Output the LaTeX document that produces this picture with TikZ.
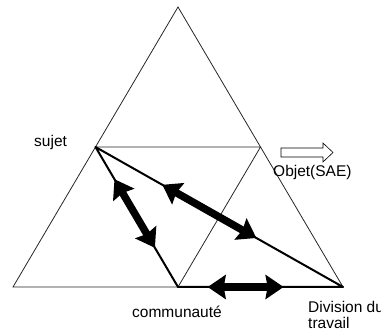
\documentclass[tikz,border=0pt]{standalone}
\usepackage{fontspec}
\setmainfont{Liberation Sans}
\usetikzlibrary{calc,arrows.meta}
\tikzset{
  thinline/.style={draw=black!85, line width=0.8pt},
  thickline/.style={draw=black, line width=2pt, line join=round},
  dblarrow/.style={line width=7.5pt, {Stealth[length=18pt 0 0,width=24pt 0 0,inset=2pt]}-{Stealth[length=18pt 0 0,width=24pt 0 0,inset=2pt]}},
  lbl/.style={inner sep=0pt, anchor=base west, font=\fontsize{15.5}{17}\selectfont},
}
\begin{document}
\begin{tikzpicture}[x=1pt,y=-1pt]
\useasboundingbox (0,0) rectangle (381,334);
% vertices
\coordinate (A) at (178,7);
\coordinate (BL) at (13,287);
\coordinate (D) at (343,287);
\coordinate (S) at (95.5,147);
\coordinate (R) at (260.5,147);
\coordinate (C) at (178,287);
% outer triangle and inner triangle
\draw[thinline] (A) -- (BL) -- (D) -- cycle;
\draw[thinline] (S) -- (R) -- (C) -- cycle;
% thick triangle
\draw[thickline] (S) -- (C) -- (D) -- cycle;
% double arrows
\draw[dblarrow] ($(S)!0.23!(C)$) -- ($(S)!0.72!(C)$);
\draw[dblarrow] ($(S)!0.27!(D)$) -- ($(S)!0.65!(D)$);
\draw[dblarrow] ($(C)!0.18!(D)$) -- ($(C)!0.64!(D)$);
% open arrow
\draw[line width=0.6pt, fill=white] (281,148) -- (323,148) -- (323,143) -- (333,152.5) -- (323,162) -- (323,157) -- (281,157) -- cycle;
% labels
\node[lbl] (lsujet) at (34,147) {sujet};
\node[lbl] (lobjet) at (273,177) {Objet(SAE)};
\node[lbl] (lcomm) at (132,318) {communauté};
\node[lbl] (ldiv) at (308,313) {Division du};
\node[lbl] (ltrav) at (308,329) {travail};
\end{tikzpicture}
\end{document}
